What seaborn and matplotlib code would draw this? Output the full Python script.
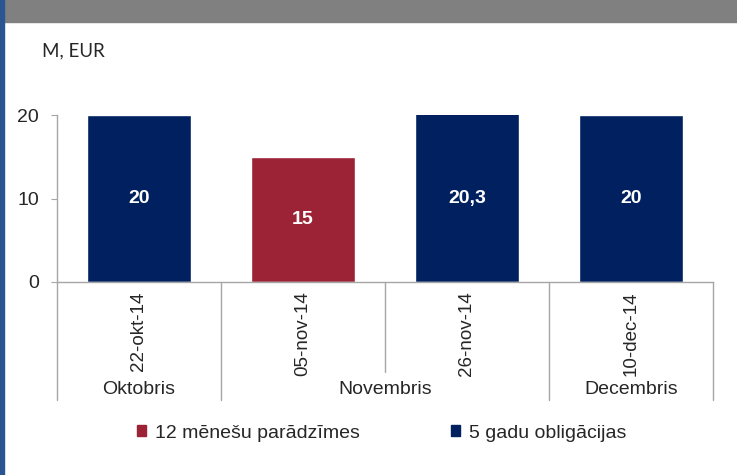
import matplotlib
matplotlib.use("Agg")
import matplotlib.pyplot as plt
import matplotlib.patches as mpatches
import seaborn as sns
import pandas as pd

# chart data
dates = ["22-okt-14", "05-nov-14", "26-nov-14", "10-dec-14"]
values = [20, 15, 20.3, 20]
series = ["5 gadu obligācijas", "12 mēnešu parādzīmes", "5 gadu obligācijas", "5 gadu obligācijas"]
months = ["Oktobris", "Novembris", "Decembris"]
month_first = [0, 1, 3]
month_last = [0, 2, 3]

hue_order = ["12 mēnešu parādzīmes", "5 gadu obligācijas"]
colors = {"12 mēnešu parādzīmes": "#9B2335", "5 gadu obligācijas": "#002060"}
grid_col = "#A6A6A6"

df = pd.DataFrame({"date": dates, "value": values, "series": series})

sns.set_style("white")
plt.rcParams["font.family"] = ["Liberation Sans", "DejaVu Sans"]

fig = plt.figure(figsize=(7.37, 4.75), dpi=100)
ax = fig.add_axes([57 / 737, (475 - 282) / 475, (713 - 57) / 737, 167 / 475])

sns.barplot(data=df, x="date", y="value", hue="series", hue_order=hue_order,
            palette=colors, dodge=False, width=0.63, saturation=1, ax=ax,
            legend=False)

ax.set_ylim(0, 20)
ax.set_xlim(-0.5, len(dates) - 0.5)
ax.set_yticks([0, 10, 20])
ax.tick_params(axis="y", length=4, color=grid_col, labelsize=14, pad=9, left=True)
ax.tick_params(axis="x", length=0, labelsize=13.5, pad=7)
ax.set_xticks(range(len(dates)))
ax.set_xticklabels(dates, rotation=90, va="top")
ax.set_xlabel("")
ax.set_ylabel("")
for s in ["top", "right"]:
    ax.spines[s].set_visible(False)
for s in ["left", "bottom"]:
    ax.spines[s].set_color(grid_col)
    ax.spines[s].set_linewidth(1)

# value labels inside bars
for i, v in enumerate(values):
    shown = min(v, 20)
    txt = ("%g" % v).replace(".", ",")
    ax.text(i, shown / 2, txt, ha="center", va="center", color="white",
            fontsize=14, fontweight="bold")

# category separators below axis
trans = ax.get_xaxis_transform()
long_y = (282 - 400) / 167
short_y = (282 - 372) / 167
bounds = set([f - 0.5 for f in month_first] + [month_last[-1] + 0.5])
for b in [i - 0.5 for i in range(len(dates) + 1)]:
    y_end = long_y if b in bounds else short_y
    ax.plot([b, b], [0, y_end], transform=trans, color=grid_col, lw=1, clip_on=False)

# month labels
for m, a, z in zip(months, month_first, month_last):
    ax.text((a + z) / 2, (282 - 390) / 167, m, transform=trans, ha="center",
            va="center", fontsize=14)

# unit label
fig.text(42 / 737, 1 - 51 / 475, "M, EUR", fontsize=13.5, family="Lato",
         va="center", ha="left")

# legend
handles = [mpatches.Patch(color=colors[h], label=h) for h in hue_order]
fig.legend(handles=handles, loc="center", bbox_to_anchor=(382 / 737, 1 - 433 / 475),
           ncol=2, frameon=False, fontsize=14, handlelength=0.46, handleheight=0.46,
           handletextpad=0.45, columnspacing=4.7, borderpad=0)

# header bar and left border
fig.patches.append(mpatches.Rectangle((0, 1 - 22 / 475), 1, 22 / 475,
                                      transform=fig.transFigure, color="#808080", zorder=0))
fig.patches.append(mpatches.Rectangle((0, 0), 4 / 737, 1,
                                      transform=fig.transFigure, color="#2A5592", zorder=1))

fig.savefig("out.png", dpi=100)
